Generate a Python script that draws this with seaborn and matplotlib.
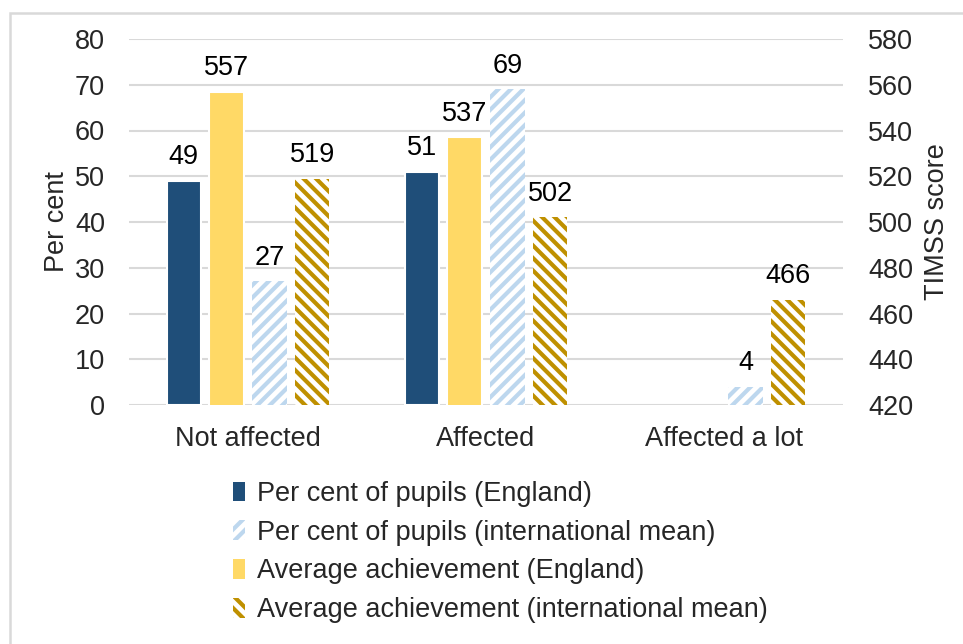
import matplotlib
matplotlib.use("Agg")
import matplotlib.pyplot as plt
import matplotlib.patches as mpatches
import seaborn as sns
import pandas as pd
import numpy as np

categories = ["Not affected", "Affected", "Affected a lot"]
series = ["Per cent of pupils (England)", "Average achievement (England)",
          "Per cent of pupils (international mean)", "Average achievement (international mean)"]
pct_england = [49, 51, None]
ach_england = [557, 537, None]
pct_intl = [27, 69, 4]
ach_intl = [519, 502, 466]
left_ticks = [0, 10, 20, 30, 40, 50, 60, 70, 80]
right_ticks = [420, 440, 460, 480, 500, 520, 540, 560, 580]

colors = {series[0]: "#1F4E79", series[1]: "#FFD966",
          series[2]: "#BDD7EE", series[3]: "#BF9000"}
hatches = {series[2]: "////", series[3]: "\\\\\\\\"}

rows = []
for name, vals in zip(series, [pct_england, ach_england, pct_intl, ach_intl]):
    for c, v in zip(categories, vals):
        if v is not None:
            rows.append({"category": c, "series": name, "value": v})
df = pd.DataFrame(rows)
df_pct = df[df["series"].isin([series[0], series[2]])]
df_ach = df[df["series"].isin([series[1], series[3]])]

sns.set_style("white")
plt.rcParams["font.family"] = ["Liberation Sans", "DejaVu Sans"]
plt.rcParams["hatch.linewidth"] = 2.0
FS = 13

fig = plt.figure(figsize=(6.42, 644 / 150), dpi=150)
ax = fig.add_axes([129 / 963, 1 - 405 / 644, (843 - 129) / 963, (405 - 39) / 644])
ax2 = ax.twinx()

kw = dict(x="category", y="value", hue="series", hue_order=series, order=categories,
          palette=colors, width=0.72, gap=0.2, legend=False, errorbar=None, saturation=1)
sns.barplot(data=df_pct, ax=ax, **kw)
sns.barplot(data=df_ach, ax=ax2, **kw)

def style(axis):
    for cont in axis.containers:
        for p in cont.patches:
            fc = matplotlib.colors.to_hex(p.get_facecolor())
            for name, col in colors.items():
                if fc.lower() == col.lower() and name in hatches:
                    p.set_facecolor("white")
                    p.set_edgecolor(col)
                    p.set_hatch(hatches[name])
                    p.set_linewidth(0)
        axis.bar_label(cont, fmt="%g", padding=5, fontsize=FS, color="#000000")

style(ax)
style(ax2)

ax.set_ylim(0, 80)
ax2.set_ylim(420, 580)
ax.set_yticks(left_ticks)
ax2.set_yticks(right_ticks)
ax.set_xlim(-0.5, 2.5)
ax.grid(axis="y", color="#d9d9d9", linewidth=1.0)
ax.set_axisbelow(True)
ax2.grid(False)
for a in (ax, ax2):
    for s in a.spines.values():
        s.set_visible(False)
ax.tick_params(axis="y", length=0, pad=11.5, labelsize=FS)
ax2.tick_params(axis="y", length=0, pad=12, labelsize=FS)
ax.tick_params(axis="x", length=0, pad=10, labelsize=FS)
ax.set_xlabel("")
ax2.set_xlabel("")
ax.set_ylabel("Per cent", fontsize=FS, labelpad=2.5)
ax2.set_ylabel("TIMSS score", fontsize=FS, labelpad=5)

handles = []
order = [series[0], series[2], series[1], series[3]]
for name in order:
    if name in hatches:
        h = mpatches.Patch(facecolor="white", edgecolor=colors[name], linewidth=0,
                           hatch=hatches[name])
    else:
        h = mpatches.Patch(facecolor=colors[name], linewidth=0)
    handles.append(h)
fig.legend(handles, order, loc="upper left",
           bbox_to_anchor=(233 / 963, 1 - 481 / 644), frameon=False, fontsize=FS,
           handlelength=0.45, handleheight=0.75, handletextpad=0.42, labelspacing=0.47,
           borderpad=0, borderaxespad=0)

fig.patches.append(mpatches.Rectangle((10 / 963, -0.1), 1.2, 1.1 - 13 / 644,
                                      transform=fig.transFigure, fill=False,
                                      edgecolor="#d9d9d9", linewidth=1.2))
fig.savefig("out.png", dpi=150, facecolor="white")
